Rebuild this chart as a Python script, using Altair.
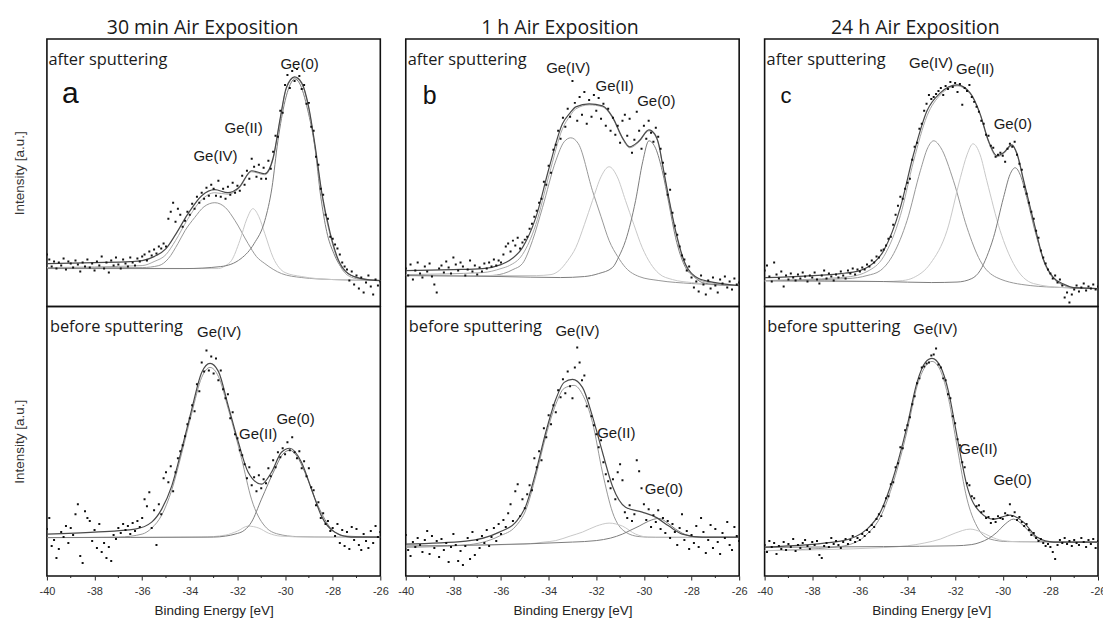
import altair as alt
import pandas as pd

# ---------------- shared energy grid of the measured points (eV) ----------------
E_GRID = [
    -40.0, -39.9, -39.8, -39.7, -39.6, -39.5, -39.4, -39.3, -39.2, -39.1,
    -39.0, -38.9, -38.8, -38.7, -38.6, -38.5, -38.4, -38.3, -38.2, -38.1,
    -38.0, -37.9, -37.8, -37.7, -37.6, -37.5, -37.4, -37.3, -37.2, -37.1,
    -37.0, -36.9, -36.8, -36.7, -36.6, -36.5, -36.4, -36.3, -36.2, -36.1,
    -36.0, -35.9, -35.8, -35.7, -35.6, -35.5, -35.4, -35.3, -35.2, -35.1,
    -35.0, -34.9, -34.8, -34.7, -34.6, -34.5, -34.4, -34.3, -34.2, -34.1,
    -34.0, -33.9, -33.8, -33.7, -33.6, -33.5, -33.4, -33.3, -33.2, -33.1,
    -33.0, -32.9, -32.8, -32.7, -32.6, -32.5, -32.4, -32.3, -32.2, -32.1,
    -32.0, -31.9, -31.8, -31.7, -31.6, -31.5, -31.4, -31.3, -31.2, -31.1,
    -31.0, -30.9, -30.8, -30.7, -30.6, -30.5, -30.4, -30.3, -30.2, -30.1,
    -30.0, -29.9, -29.8, -29.7, -29.6, -29.5, -29.4, -29.3, -29.2, -29.1,
    -29.0, -28.9, -28.8, -28.7, -28.6, -28.5, -28.4, -28.3, -28.2, -28.1,
    -28.0, -27.9, -27.8, -27.7, -27.6, -27.5, -27.4, -27.3, -27.2, -27.1,
    -27.0, -26.9, -26.8, -26.7, -26.6, -26.5, -26.4, -26.3, -26.2, -26.1,
    -26.0,
]

# ---------------- measured points (intensity, a.u.) ----------------
A1_DOTS = [
    52, 47, 40, 45, 38, 44, 41, 48, 37, 45,
    43, 39, 46, 42, 35, 44, 40, 47, 39, 43,
    36, 45, 41, 50, 38, 44, 34, 46, 41, 49,
    42, 38, 47, 43, 40, 49, 44, 41, 48, 45,
    50, 52, 46, 55, 51, 57, 53, 60, 58, 63,
    60, 88, 95, 104, 85, 98, 92, 80, 86, 95,
    92, 103, 98, 110, 104, 114, 108, 119, 111, 122,
    118, 111, 126, 110, 118, 108, 120, 112, 124, 114,
    121, 116, 131, 122, 136, 128, 148, 140, 130, 142,
    128, 139, 128, 146, 138, 155, 171, 170, 196, 194,
    222, 232, 219, 236, 226, 238, 231, 218, 222, 203,
    204, 180, 176, 150, 142, 118, 112, 92, 88, 70,
    68, 62, 58, 52, 44, 40, 37, 26, 35, 22,
    31, 18, 29, 14, 24, 31, 20, 12, 27, 21,
    25,
]
A2_DOTS = [
    47, 58, 30, 36, 18, 27, 44, 39, 50, 33,
    48, 41, 62, 72, 20, 13, 65, 58, 55, 35,
    46, 28, 52, 24, 33, 18, 29, 15, 41, 37,
    48, 43, 52, 46, 50, 42, 53, 45, 55, 49,
    58, 77, 70, 84, 48, 66, 31, 72, 62, 98,
    104, 94, 110, 85, 104, 118, 125, 131, 140, 152,
    158, 171, 165, 192, 185, 214, 205, 226, 206, 220,
    203, 218, 196, 206, 187, 178, 182, 158, 164, 142,
    138, 126, 121, 112, 98, 109, 91, 99, 85, 101,
    88, 97, 93, 108, 100, 116, 109, 124, 119, 128,
    122, 134, 126, 139, 124, 118, 125, 108, 115, 100,
    108, 89, 86, 71, 74, 58, 63, 52, 55, 45,
    48, 40, 52, 33, 46, 30, 44, 27, 49, 36,
    47, 31, 26, 42, 35, 28, 45, 33, 50, 39,
    44,
]
B1_DOTS = [
    38, 31, 42, 27, 36, 44, 33, 29, 40, 35,
    43, 30, 22, 14, 38, 41, 34, 45, 39, 33,
    49, 42, 36, 44, 40, 31, 37, 46, 35, 41,
    32, 39, 35, 43, 38, 44, 40, 47, 41, 46,
    44, 52, 60, 63, 55, 66, 61, 69, 58, 64,
    67, 70, 78, 83, 90, 96, 104, 108, 125, 122,
    141, 134, 157, 162, 176, 168, 189, 180, 198, 190,
    226, 204, 186, 210, 192, 215, 183, 207, 190, 212,
    196, 209, 188, 203, 181, 198, 176, 189, 172, 181,
    164, 186, 192, 171, 188, 154, 167, 195, 176, 158,
    181, 168, 186, 174, 165, 179, 170, 158, 144, 133,
    112, 117, 94, 81, 72, 60, 51, 47, 36, 40,
    29, 19, 25, 15, 31, 22, 12, 26, 18, 29,
    21, 14, 27, 23, 30, 19, 25, 17, 28, 22,
    24,
]
B2_DOTS = [
    41, 26, 20, 34, 29, 38, 31, 24, 36, 45,
    22, 40, 28, 35, 19, 37, 26, 33, 14, 29,
    42, 31, 15, 25, 11, 30, 38, 17, 44, 21,
    36, 28, 40, 33, 46, 30, 39, 48, 35, 52,
    42, 56, 49, 63, 72, 55, 85, 92, 60, 77,
    68, 82, 91, 86, 118, 109, 125, 116, 148, 139,
    161, 152, 171, 164, 186, 179, 197, 183, 205, 190,
    178, 209, 229, 214, 196, 201, 170, 178, 160, 151,
    142, 129, 136, 114, 102, 95, 88, 97, 77, 104,
    112, 96, 64, 58, 71, 55, 62, 116, 105, 88,
    72, 56, 67, 49, 61, 54, 66, 47, 58, 43,
    55, 38, 52, 44, 31, 48, 62, 36, 45, 27,
    41, 33, 50, 29, 58, 44, 23, 36, 51, 28,
    47, 34, 22, 43, 38, 54, 31, 26, 49, 40,
    35,
]
C1_DOTS = [
    36, 41, 30, 25, 44, 32, 28, 35, 20, 31,
    27, 33, 29, 26, 32, 28, 34, 30, 25, 31,
    29, 34, 27, 23, 31, 36, 28, 33, 30, 26,
    32, 29, 35, 31, 28, 36, 33, 38, 32, 37,
    35, 39, 37, 42, 40, 46, 44, 50, 49, 56,
    57, 61, 68, 70, 82, 92, 101, 110, 108, 118,
    124, 128, 147, 160, 164, 178, 183, 196, 203, 212,
    208, 210, 213, 216, 219, 212, 221, 218, 225, 220,
    224, 215, 223, 202, 219, 216, 222, 210, 205, 200,
    195, 186, 183, 172, 171, 161, 159, 150, 152, 154,
    151, 145, 158, 163, 160, 165, 152, 143, 137, 120,
    113, 104, 95, 88, 76, 69, 56, 49, 43, 37,
    33, 28, 31, 24, 27, 21, 9, 14, 4, 12,
    17, 21, 15, 19, 23, 16, 20, 18, 22, 17,
    20,
]
C2_DOTS = [
    31, 24, 35, 29, 33, 22, 30, 27, 34, 26,
    32, 29, 37, 25, 31, 28, 33, 36, 30, 27,
    34, 31, 35, 21, 18, 30, 33, 29, 38, 32,
    35, 31, 28, 34, 37, 32, 36, 40, 34, 38,
    36, 42, 40, 46, 44, 51, 49, 57, 62, 60,
    70, 78, 80, 92, 94, 109, 113, 129, 128, 146,
    151, 159, 172, 180, 193, 198, 209, 210, 213, 214,
    221, 222, 228, 212, 209, 198, 196, 182, 178, 160,
    153, 137, 131, 114, 109, 93, 91, 80, 78, 70,
    71, 64, 65, 58, 59, 53, 57, 54, 60, 58,
    57, 63, 61, 72, 60, 64, 56, 59, 54, 50,
    52, 46, 41, 43, 38, 35, 37, 33, 30, 32,
    29, 24, 17, 31, 36, 33, 38, 32, 35, 30,
    36, 33, 31, 38, 34, 29, 36, 32, 37, 28,
    35,
]

# ---------------- fitted curves (energy, intensity) ----------------
A1_ENV = [(-40, 43), (-38, 44), (-36.5, 45), (-36, 46), (-35.5, 50), (-35, 58), (-34.6, 72), (-34.1, 92),
          (-33.5, 111), (-32.95, 117), (-32.4, 114), (-31.95, 119), (-31.4, 136), (-30.85, 133), (-30.5, 149),
          (-30.2, 189), (-29.95, 219), (-29.6, 230), (-29.3, 224), (-29.0, 199), (-28.75, 163), (-28.45, 113),
          (-28.1, 73), (-27.75, 46), (-27.35, 33), (-26.8, 28), (-26, 26)]
A1_FIT = [(-40, 39), (-36, 41), (-35.5, 45), (-35, 52), (-34.6, 66), (-34.1, 87), (-33.5, 107), (-32.95, 114),
          (-32.4, 112.5), (-31.95, 118), (-31.4, 135), (-30.85, 132), (-30.5, 148), (-30.2, 188), (-29.95, 218),
          (-29.6, 229), (-29.3, 223), (-29.0, 197.5), (-28.75, 161), (-28.45, 111), (-28.1, 71), (-27.75, 44),
          (-27.35, 31), (-26.8, 27), (-26, 26)]
A1_GE4 = [(-40, 39), (-36, 39), (-35.3, 41), (-34.9, 48), (-34.5, 63), (-34.2, 76), (-33.8, 89), (-33.4, 100),
          (-32.95, 104), (-32.5, 99), (-32.1, 86), (-31.55, 63), (-31.2, 50), (-30.85, 43), (-30.15, 33),
          (-29.3, 29), (-28, 27), (-26, 26)]
A1_GE2 = [(-40, 39), (-33.5, 38), (-32.8, 38), (-32.5, 41), (-32.25, 46), (-31.9, 66), (-31.6, 88), (-31.35, 98),
          (-31.1, 90), (-30.85, 73), (-30.5, 49), (-30.0, 34), (-29.3, 30), (-28, 27), (-26, 26)]
A1_GE0 = [(-40, 38), (-34.2, 38), (-32.7, 40), (-31.85, 48), (-31.3, 63), (-30.85, 86), (-30.55, 119), (-30.3, 166),
          (-30.0, 206), (-29.75, 224), (-29.6, 228), (-29.4, 224), (-29.05, 197), (-28.75, 160), (-28.5, 110),
          (-28.25, 75), (-27.95, 53), (-27.6, 38), (-27.2, 31), (-26.6, 27), (-26, 26)]

A2_ENV = [(-40, 42), (-38, 44), (-36.3, 47), (-35.6, 54), (-35.18, 67), (-34.76, 90), (-34.34, 127), (-33.92, 167),
          (-33.5, 204), (-33.15, 213), (-32.8, 205), (-32.38, 170), (-31.96, 134), (-31.55, 104), (-30.99, 92),
          (-30.57, 104), (-30.15, 124), (-29.8, 128), (-29.31, 114), (-28.89, 87), (-28.47, 60), (-27.92, 44),
          (-27.22, 39), (-26, 39)]
A2_GE4 = [(-40, 38.5), (-37, 39), (-36, 42), (-35.6, 48), (-35.18, 61), (-34.76, 86), (-34.34, 123), (-33.92, 163),
          (-33.5, 199), (-33.15, 209), (-32.8, 200), (-32.38, 167), (-31.82, 117), (-31.41, 77), (-30.85, 50),
          (-30.29, 42), (-29.5, 39.5), (-28, 39), (-26, 39)]
A2_GE2 = [(-40, 38.5), (-33.5, 39), (-32.5, 41), (-32.0, 45), (-31.55, 50), (-31.1, 48), (-30.7, 43), (-30.2, 40),
          (-29, 39), (-26, 39)]
A2_GE0 = [(-40, 38.5), (-33, 39), (-32.5, 40), (-32.1, 42), (-31.7, 46), (-31.41, 54), (-30.99, 77), (-30.43, 107),
          (-30.1, 122), (-29.8, 126), (-29.5, 120), (-29.17, 104), (-28.61, 70), (-28.05, 47), (-27.5, 40), (-26, 39)]

B1_ENV = [(-40, 36), (-38, 37), (-36.77, 38), (-36, 42), (-35.65, 46), (-35.1, 59), (-34.54, 89), (-33.98, 139),
          (-33.42, 183), (-33.1, 194), (-32.86, 200), (-32.3, 203), (-31.74, 201), (-31.32, 190), (-30.9, 169),
          (-30.6, 160), (-30.2, 166), (-29.79, 177), (-29.55, 173), (-29.37, 162), (-29.2, 140), (-28.95, 108),
          (-28.67, 76), (-28.25, 42), (-27.7, 28), (-27, 24), (-26, 21)]
B1_FIT = [(-40, 32), (-36.77, 34), (-36, 38), (-35.65, 41), (-35.1, 52), (-34.54, 82), (-33.98, 132), (-33.42, 178),
          (-33.1, 191), (-32.86, 198), (-32.3, 202), (-31.74, 200), (-31.32, 189), (-30.9, 168), (-30.6, 159),
          (-30.2, 165), (-29.79, 176), (-29.55, 172), (-29.37, 161), (-29.2, 139), (-28.95, 107), (-28.67, 75),
          (-28.25, 41), (-27.7, 27), (-27, 23), (-26, 21)]
B1_GE4 = [(-40, 31), (-36.5, 31), (-35.9, 33), (-35.5, 37), (-35.1, 43), (-34.68, 66), (-34.26, 99), (-33.7, 146),
          (-33.35, 165), (-33.07, 169), (-32.75, 163), (-32.16, 116), (-31.8, 90), (-31.46, 66), (-31.1, 50),
          (-30.77, 39), (-30.2, 30), (-29.37, 26), (-28, 23), (-26, 21)]
B1_GE2 = [(-40, 31), (-34.5, 31), (-33.9, 32), (-33.56, 36), (-33.2, 46), (-32.86, 59), (-32.5, 82), (-32.16, 106),
          (-31.8, 130), (-31.46, 140), (-31.12, 130), (-30.77, 106), (-30.42, 82), (-30.07, 59), (-29.72, 43),
          (-29.37, 33), (-28.8, 27), (-28, 24), (-26, 21)]
B1_GE0 = [(-40, 31), (-36, 30), (-33.5, 29), (-32.5, 30), (-31.9, 33), (-31.32, 39), (-31.05, 50), (-30.77, 66),
          (-30.35, 106), (-30.05, 145), (-29.79, 166), (-29.5, 158), (-29.23, 136), (-28.95, 103), (-28.67, 69),
          (-28.25, 39), (-27.9, 30), (-27.55, 24), (-27, 22), (-26, 21)]

B2_ENV = [(-40, 32), (-37.47, 35), (-36.07, 44), (-35.38, 54), (-34.96, 70), (-34.54, 104), (-34.12, 144),
          (-33.7, 177), (-33.35, 194), (-33.0, 197), (-32.58, 189), (-32.16, 160), (-31.74, 124), (-31.32, 90),
          (-30.77, 69), (-30.07, 64), (-29.51, 59), (-28.95, 50), (-28.39, 42), (-27.55, 39), (-26, 39)]
B2_GE4 = [(-40, 28.7), (-37.5, 31), (-36.07, 40), (-35.38, 50), (-34.96, 66), (-34.54, 100), (-34.12, 140),
          (-33.7, 172), (-33.35, 188), (-32.93, 191), (-32.58, 182), (-32.16, 154), (-31.74, 104), (-31.32, 64),
          (-30.77, 44), (-30.2, 39.5), (-29.5, 38.7), (-26, 38.7)]
B2_GE2 = [(-40, 30), (-35, 32), (-34.2, 34), (-33.7, 35.5), (-33.1, 40), (-32.58, 44), (-32.0, 50), (-31.46, 53),
          (-30.9, 50), (-30.35, 42), (-29.8, 39), (-26, 38.7)]
B2_GE0 = [(-40, 30), (-33, 34), (-32.0, 35.5), (-31.4, 38), (-30.9, 42), (-30.55, 46), (-30.2, 50), (-29.8, 55),
          (-29.37, 57.7), (-29.0, 53), (-28.67, 47), (-28.11, 40.3), (-27.5, 38.7), (-26, 38.7)]

C1_ENV = [(-40, 29), (-36.81, 33), (-36, 36), (-35.7, 39), (-35.0, 56), (-34.3, 99), (-33.74, 153), (-33.18, 196),
          (-32.62, 214), (-31.92, 222), (-31.37, 214), (-30.95, 193), (-30.6, 166), (-30.25, 151), (-29.97, 154),
          (-29.62, 162), (-29.4, 153), (-29.13, 127), (-28.71, 86), (-28.29, 47), (-27.87, 29), (-27.4, 22),
          (-27.04, 19), (-26, 18)]
C1_FIT = [(-40, 26), (-36.81, 29), (-36, 32), (-35.7, 35), (-35.0, 50), (-34.3, 91), (-33.74, 146), (-33.18, 191),
          (-32.62, 212), (-31.92, 221), (-31.37, 213), (-30.95, 192), (-30.6, 165), (-30.25, 150), (-29.97, 153),
          (-29.62, 161), (-29.4, 152), (-29.13, 126), (-28.71, 85), (-28.29, 46), (-27.87, 28), (-27.4, 21),
          (-27.04, 18), (-26, 18)]
C1_GE4 = [(-40, 26), (-36.5, 28), (-35.7, 31), (-35.14, 36), (-34.58, 53), (-34.02, 86), (-33.46, 136),
          (-33.15, 159), (-32.9, 166), (-32.6, 159), (-32.07, 126), (-31.5, 79), (-30.95, 46), (-30.25, 29),
          (-28.85, 21), (-27.5, 19), (-26, 18)]
C1_GE2 = [(-40, 25), (-35, 25), (-34.2, 26), (-33.74, 29), (-33.04, 43), (-32.34, 76), (-31.78, 129), (-31.5, 152),
          (-31.25, 163), (-30.95, 152), (-30.67, 126), (-30.11, 76), (-29.55, 43), (-28.71, 23), (-27.5, 19),
          (-26, 18)]
C1_GE0 = [(-40, 26), (-35, 25), (-33, 24), (-31.92, 24.5), (-31.3, 28), (-30.95, 36), (-30.67, 50), (-30.39, 69),
          (-29.97, 109), (-29.7, 132), (-29.48, 139), (-29.25, 131), (-28.99, 109), (-28.57, 69), (-28.15, 39),
          (-27.59, 23), (-27, 19), (-26, 18)]

C2_ENV = [(-40, 29), (-36.81, 35), (-35.7, 47), (-35.14, 64), (-34.58, 100), (-34.02, 150), (-33.6, 194),
          (-33.25, 214), (-32.97, 218), (-32.62, 210), (-32.27, 184), (-31.92, 140), (-31.5, 90), (-30.95, 64),
          (-30.39, 57), (-29.69, 61), (-29.13, 54), (-28.57, 39), (-27.87, 34), (-26, 34)]
C2_GE4 = [(-40, 25.3), (-37, 29), (-36, 36), (-35.7, 42), (-35.14, 59), (-34.58, 95), (-34.02, 145), (-33.6, 190),
          (-33.25, 210), (-32.97, 215), (-32.62, 206), (-32.27, 177), (-31.92, 130), (-31.5, 77), (-31.09, 50),
          (-30.53, 37), (-29.8, 34.5), (-26, 34)]
C2_GE2 = [(-40, 25.5), (-35, 28.5), (-34.0, 30.3), (-33.3, 33), (-32.62, 37), (-32.0, 43), (-31.37, 47), (-30.9, 44),
          (-30.53, 39.7), (-30.0, 35.5), (-29.3, 34.3), (-26, 34)]
C2_GE0 = [(-40, 28.7), (-35, 29.5), (-32, 30.3), (-31.3, 31.5), (-30.95, 33.7), (-30.6, 37.5), (-30.25, 43.7),
          (-29.9, 52), (-29.55, 57), (-29.25, 53), (-28.99, 47), (-28.7, 40), (-28.43, 35.3), (-27.8, 34), (-26, 34)]

# ---------------- peak labels (text, energy, intensity) ----------------
A1_LABELS = [("Ge(IV)", -32.92, 151), ("Ge(II)", -31.74, 179), ("Ge(0)", -29.39, 243)]
A2_LABELS = [("Ge(IV)", -32.77, 244), ("Ge(II)", -31.13, 142), ("Ge(0)", -29.56, 157)]
B1_LABELS = [("Ge(IV)", -33.18, 239), ("Ge(II)", -31.23, 221), ("Ge(0)", -29.48, 206)]
B2_LABELS = [("Ge(IV)", -32.79, 245), ("Ge(II)", -31.16, 143), ("Ge(0)", -29.16, 87)]
C1_LABELS = [("Ge(IV)", -33.01, 244), ("Ge(II)", -31.16, 238), ("Ge(0)", -29.58, 183)]
C2_LABELS = [("Ge(IV)", -32.83, 247), ("Ge(II)", -31.02, 127), ("Ge(0)", -29.59, 96)]

COL_TITLES = ["30 min Air Exposition", "1 h Air Exposition", "24 h Air Exposition"]
LETTERS = ["a", "b", "c"]
ROW_TAGS = ["after sputtering", "before sputtering"]
X_MAJOR = [-40, -38, -36, -34, -32, -30, -28, -26]
X_MINOR = [-39, -37, -35, -33, -31, -29, -27]

# ---------------- styling ----------------
W = 334
H_TOP = 268
H_BOT = 270
COL_ENV = "#4a4a4a"
COL_FIT = "#a8a8a8"
COL_GE4 = "#989898"
COL_GE2 = "#c8c8c8"
COL_GE0 = "#7c7c7c"
TXT = "#1a1a1a"
SANS = "Liberation Sans"
HUMAN = "Open Sans"

TITLE_X = [156, 154.5, 151]
LETTER_POS = [(15, 64, 30), (17, 65, 25), (16, 64, 22)]
TAG_X_TOP = [1.5, 2, 2]
TAG_X_BOT = [3, 3, 2.7]


def panel(col, row, dots, env, fit, ge4, ge2, ge0, labels):
    h = H_TOP if row == 0 else H_BOT
    xscale = alt.Scale(domain=[-40, -26], nice=False, zero=False)
    yscale = alt.Scale(domain=[0, h], nice=False, zero=False)
    if row == 1:
        xaxis = alt.Axis(values=X_MAJOR, title="Binding Energy [eV]", labelFlush=False, tickSize=4,
                         tickColor="#222", tickWidth=1, domain=False, grid=False, labelFont=SANS,
                         labelFontSize=11, labelColor="#333", labelPadding=5.5, labelExpr="datum.value + ''",
                         titleFont=SANS, titleFontSize=13.5, titleFontWeight="normal", titleColor="#222",
                         titlePadding=7)
    else:
        xaxis = None
    if col == 0:
        yaxis = alt.Axis(title="Intensity [a.u.]", labels=False, ticks=False, domain=False, grid=False,
                         titleFont=SANS, titleFontSize=13.5, titleFontWeight="normal", titleColor="#333",
                         titlePadding=20.5)
    else:
        yaxis = None
    X = alt.X("E:Q", scale=xscale, axis=xaxis)
    Y = alt.Y("I:Q", scale=yscale, axis=yaxis)

    def curve(pts, color, width):
        df = pd.DataFrame(pts, columns=["E", "I"])
        return alt.Chart(df).mark_line(color=color, strokeWidth=width, interpolate="monotone",
                                       clip=True).encode(x=X, y=Y)

    layers = [curve(ge4, COL_GE4, 1.0), curve(ge2, COL_GE2, 1.0), curve(ge0, COL_GE0, 1.0)]
    if fit is not None:
        layers.append(curve(fit, COL_FIT, 1.0))
    layers.append(curve(env, COL_ENV, 1.2))

    dots_df = pd.DataFrame({"E": E_GRID, "I": dots})
    layers.append(alt.Chart(dots_df).mark_square(size=4, color="#111", opacity=1, clip=True)
                  .encode(x=X, y=Y))

    lab_df = pd.DataFrame(labels, columns=["label", "E", "I"])
    layers.append(alt.Chart(lab_df).mark_text(font=SANS, fontSize=15, color=TXT, align="center",
                                               baseline="middle").encode(x=X, y=Y, text="label:N"))

    tag_df = pd.DataFrame({"t": [ROW_TAGS[row]]})
    tx = TAG_X_TOP[col] if row == 0 else TAG_X_BOT[col]
    ty = 26 if row == 0 else 25.7
    layers.append(alt.Chart(tag_df).mark_text(font=HUMAN, fontSize=16.4, color=TXT, align="left",
                                               baseline="alphabetic")
                  .encode(text="t:N", x=alt.value(tx), y=alt.value(ty)))

    if row == 0:
        lx, ly, ls = LETTER_POS[col]
        let_df = pd.DataFrame({"t": [LETTERS[col]]})
        layers.append(alt.Chart(let_df).mark_text(font=SANS, fontSize=ls, color="#111", align="left",
                                                   baseline="alphabetic")
                      .encode(text="t:N", x=alt.value(lx), y=alt.value(ly)))
        tit_df = pd.DataFrame({"t": [COL_TITLES[col]]})
        layers.append(alt.Chart(tit_df).mark_text(font=HUMAN, fontSize=19.5, color=TXT, align="center",
                                                   baseline="alphabetic")
                      .encode(text="t:N", x=alt.value(TITLE_X[col]), y=alt.value(-4.7)))
    else:
        minor_df = pd.DataFrame({"E": X_MINOR})
        layers.append(alt.Chart(minor_df).mark_rule(color="#222", strokeWidth=1)
                      .encode(x=X, y=alt.value(h), y2=alt.value(h + 2)))

    return alt.layer(*layers).properties(width=W, height=h)


panels = [
    panel(0, 0, A1_DOTS, A1_ENV, A1_FIT, A1_GE4, A1_GE2, A1_GE0, A1_LABELS),
    panel(1, 0, B1_DOTS, B1_ENV, B1_FIT, B1_GE4, B1_GE2, B1_GE0, B1_LABELS),
    panel(2, 0, C1_DOTS, C1_ENV, C1_FIT, C1_GE4, C1_GE2, C1_GE0, C1_LABELS),
    panel(0, 1, A2_DOTS, A2_ENV, None, A2_GE4, A2_GE2, A2_GE0, A2_LABELS),
    panel(1, 1, B2_DOTS, B2_ENV, None, B2_GE4, B2_GE2, B2_GE0, B2_LABELS),
    panel(2, 1, C2_DOTS, C2_ENV, None, C2_GE4, C2_GE2, C2_GE0, C2_LABELS),
]

chart = alt.concat(*panels, columns=3, spacing={"row": 0, "column": 25.5}, bounds="flush").properties(
    padding={"left": 11, "top": 16.5, "right": -4, "bottom": 0},
    background="white",
).configure_view(stroke="#111", strokeWidth=1.6)

chart.save("out.html", embed_options={"renderer": "svg", "actions": False})
